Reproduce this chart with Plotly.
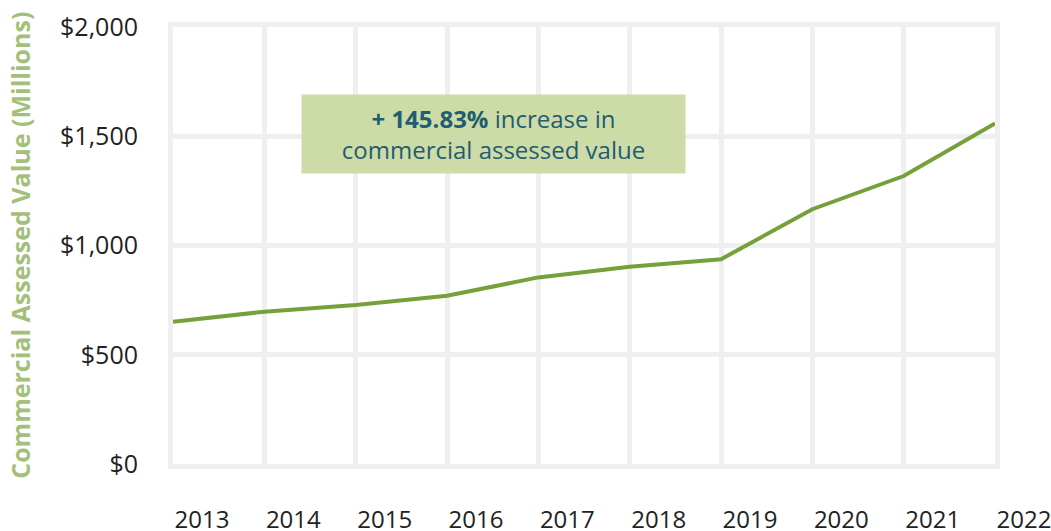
import plotly.graph_objects as go

# Commercial assessed value by year (millions of dollars)
years = [2013, 2014, 2015, 2016, 2017, 2018, 2019, 2020, 2021, 2022]
values = [651, 697, 728, 770, 854, 903, 937, 1166, 1318, 1559]

y_ticks = [0, 500, 1000, 1500, 2000]
y_labels = ["$0", "$500", "$1,000", "$1,500", "$2,000"]
y_title = "Commercial Assessed Value (Millions)"
callout_pct = "+ 145.83%"
callout_rest = " increase in<br>commercial assessed value"

FONT = "Open Sans"
GRID = "#efefef"
LINE = "#76a03a"
TITLE_GREEN = "#a3c07b"
TEAL = "#1f5d72"

fig = go.Figure()
fig.add_trace(go.Scatter(
    x=years, y=values, mode="lines",
    line=dict(color=LINE, width=4),
    hoverinfo="x+y", showlegend=False,
))

fig.update_layout(
    width=1051, height=531,
    margin=dict(l=173, r=56, t=27, b=67),
    paper_bgcolor="white", plot_bgcolor="white",
    font=dict(family=FONT, size=24, color="#222222"),
    xaxis=dict(
        range=[years[0], years[-1]], automargin=False,
        tickvals=years, ticktext=[str(y) for y in years],
        showgrid=True, gridcolor=GRID, gridwidth=5,
        showline=True, mirror=True, linecolor=GRID, linewidth=5,
        zeroline=False, ticks="",
        ticklabelshift=29, ticklabelstandoff=30,
        ticklabeloverflow="allow",
        tickfont=dict(size=24, color="#222222"),
    ),
    yaxis=dict(
        range=[y_ticks[0], y_ticks[-1]], automargin=False,
        tickvals=y_ticks, ticktext=y_labels,
        showgrid=True, gridcolor=GRID, gridwidth=5,
        showline=True, mirror=True, linecolor=GRID, linewidth=5,
        zeroline=False, ticks="",
        ticklabelstandoff=25,
        tickfont=dict(size=25, color="#222222"),
    ),
    annotations=[
        dict(
            text=f"<b>{y_title}</b>", textangle=-90,
            xref="paper", yref="paper", x=-0.187, y=0.5,
            xanchor="center", yanchor="middle", showarrow=False,
            font=dict(family=FONT, size=25, color=TITLE_GREEN),
        ),
        dict(
            text=f"<b>{callout_pct}</b>{callout_rest}",
            xref="paper", yref="paper", x=0.390, y=0.755,
            xanchor="center", yanchor="middle", showarrow=False,
            width=383, height=78, borderpad=0,
            bgcolor="#cddba6", align="center",
            font=dict(family=FONT, size=24, color=TEAL),
        ),
    ],
)

fig.write_html("out.html")
